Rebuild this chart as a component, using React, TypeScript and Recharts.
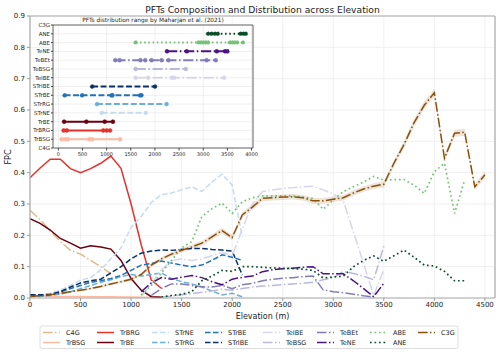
import React from 'react';
import { ComposedChart, LineChart, Line, Area, XAxis, YAxis, CartesianGrid, ReferenceLine, Label } from 'recharts';

const FONT = "'DejaVu Sans', sans-serif";

// ---------- Main chart data (FPC every 100 m, each series from its start elevation) ----------
const elevation = [0, 100, 200, 300, 400, 500, 600, 700, 800, 900, 1000, 1100, 1200, 1300, 1400, 1500, 1600, 1700, 1800, 1900, 2000, 2100, 2200, 2300, 2400, 2500, 2600, 2700, 2800, 2900, 3000, 3100, 3200, 3300, 3400, 3500, 3600, 3700, 3800, 3900, 4000, 4100, 4200, 4300, 4400, 4500];
const xTicks = [0, 500, 1000, 1500, 2000, 2500, 3000, 3500, 4000, 4500];
const yTicks = [0, 0.1, 0.2, 0.3, 0.4, 0.5, 0.6, 0.7, 0.8, 0.9];

const c4gStart = 0;
const c4gFpc = [0.28, 0.25, 0.215, 0.18, 0.152, 0.14, 0.12, 0.1, 0.078];
const trbsgStart = 0;
const trbsgFpc = [0.006, 0.006, 0.005, 0.005, 0.005, 0.005, 0.004, 0.004, 0.004, 0.003, 0.003, 0.002, 0.002, 0.002];
const trbrgStart = 0;
const trbrgFpc = [0.384, 0.415, 0.443, 0.443, 0.413, 0.4, 0.413, 0.43, 0.453, 0.414, 0.3, 0.17, 0.057, 0.031];
const trbeStart = 0;
const trbeFpc = [0.253, 0.238, 0.217, 0.19, 0.175, 0.159, 0.167, 0.163, 0.156, 0.12, 0.062, 0.025, 0.004, 0.002];
const strneStart = 0;
const strneFpc = [0.01, 0.01, 0.015, 0.025, 0.04, 0.057, 0.065, 0.09, 0.125, 0.16, 0.225, 0.26, 0.305, 0.33, 0.335, 0.345, 0.355, 0.34, 0.37, 0.395, 0.36, 0.196];
const strrgStart = 0;
const strrgFpc = [0.005, 0.005, 0.008, 0.012, 0.02, 0.03, 0.04, 0.05, 0.058, 0.068, 0.075, 0.07, 0.075, 0.08, 0.062, 0.052, 0.045, 0.035, 0.022, 0.01, 0.015, 0.004];
const strbeStart = 0;
const strbeFpc = [0.008, 0.008, 0.01, 0.02, 0.03, 0.04, 0.05, 0.055, 0.062, 0.072, 0.088, 0.105, 0.11, 0.118, 0.112, 0.105, 0.1, 0.105, 0.12, 0.138, 0.13, 0.12];
const stribeStart = 0;
const stribeFpc = [0.01, 0.01, 0.012, 0.02, 0.035, 0.048, 0.055, 0.06, 0.08, 0.1, 0.125, 0.143, 0.15, 0.153, 0.152, 0.155, 0.158, 0.158, 0.155, 0.153, 0.15, 0.073];
const teibeStart = 1100;
const teibeFpc = [0.005, 0.045, 0.09, 0.118, 0.125, 0.12, 0.125, 0.135, 0.145, 0.135, 0.22, 0.3, 0.34, 0.345, 0.35, 0.352, 0.355, 0.357, 0.345, 0.332, 0.31, 0.21, 0.11, 0.008, 0.09];
const tebsgStart = 1300;
const tebsgFpc = [0.003, 0.006, 0.01, 0.014, 0.018, 0.022, 0.028, 0.025, 0.03, 0.035, 0.038, 0.04, 0.043, 0.045, 0.047, 0.05, 0.058, 0.065, 0.085, 0.078, 0.07, 0.058, 0.165];
const tebetStart = 1200;
const tebetFpc = [0.008, 0.03, 0.045, 0.045, 0.04, 0.036, 0.035, 0.04, 0.03, 0.042, 0.047, 0.055, 0.06, 0.063, 0.065, 0.068, 0.07, 0.026, 0.02, 0.017, 0.012, 0.007, 0.003];
const teneStart = 1100;
const teneFpc = [0.02, 0.048, 0.065, 0.06, 0.066, 0.072, 0.065, 0.052, 0.042, 0.06, 0.066, 0.07, 0.084, 0.09, 0.093, 0.095, 0.098, 0.1, 0.077, 0.077, 0.077, 0.055, 0.03, 0.004, 0.047];
const abeStart = 1100;
const abeFpc = [0.01, 0.04, 0.08, 0.12, 0.16, 0.18, 0.26, 0.285, 0.303, 0.27, 0.307, 0.32, 0.326, 0.326, 0.326, 0.326, 0.322, 0.318, 0.283, 0.313, 0.34, 0.355, 0.37, 0.388, 0.376, 0.378, 0.378, 0.36, 0.334, 0.403, 0.43, 0.27, 0.377];
const aneStart = 1300;
const aneFpc = [0.003, 0.008, 0.012, 0.02, 0.055, 0.07, 0.088, 0.085, 0.1, 0.1, 0.098, 0.096, 0.095, 0.094, 0.092, 0.088, 0.064, 0.067, 0.07, 0.1, 0.12, 0.134, 0.117, 0.135, 0.153, 0.13, 0.105, 0.102, 0.085, 0.055, 0.055];
const c3gStart = 0;
const c3gFpc = [0.005, 0.007, 0.01, 0.015, 0.02, 0.025, 0.03, 0.037, 0.045, 0.052, 0.06, 0.075, 0.105, 0.125, 0.14, 0.152, 0.163, 0.175, 0.195, 0.215, 0.193, 0.265, 0.29, 0.318, 0.32, 0.322, 0.323, 0.32, 0.31, 0.31, 0.315, 0.32, 0.335, 0.348, 0.357, 0.363, 0.43, 0.49, 0.56, 0.615, 0.655, 0.446, 0.526, 0.529, 0.355, 0.393];
// half-width of the C3G confidence band
const c3gCi = [0.002, 0.002, 0.002, 0.003, 0.003, 0.003, 0.003, 0.004, 0.004, 0.004, 0.005, 0.005, 0.006, 0.006, 0.007, 0.007, 0.007, 0.008, 0.008, 0.009, 0.008, 0.009, 0.009, 0.009, 0.009, 0.009, 0.009, 0.009, 0.009, 0.009, 0.009, 0.009, 0.009, 0.009, 0.009, 0.01, 0.01, 0.011, 0.012, 0.012, 0.012, 0.012, 0.011, 0.011, 0.01, 0.011];

// ---------- Inset data: distribution ranges (m) by Maharjan et al. (2021) ----------
const insetCategories = ['C4G', 'TrBSG', 'TrBRG', 'TrBE', 'STrNE', 'STrRG', 'STrBE', 'STrIBE', 'TeIBE', 'TeBSG', 'TeBEt', 'TeNE', 'ABE', 'ANE', 'C3G'];
const insetTicks = [0, 500, 1000, 1500, 2000, 2500, 3000, 3500, 4000];
const c4gRange: number[] = [];
const trbsgRange = [70, 140, 200, 640, 700, 1280];
const trbrgRange = [110, 175, 930, 1000, 1070];
const trbeRange = [120, 580, 960, 1130];
const strneRange = [900, 1810];
const strrgRange = [800, 2240];
const strbeRange = [130, 490, 1100, 1120, 1690, 1720];
const stribeRange = [700, 2000];
const teibeRange = [1600, 1860, 2350, 2400, 3430];
const tebsgRange = [1600, 2640];
const tebetRange = [1180, 1270, 1700, 1800, 1930, 2140, 2280, 3070, 3260];
const teneRange = [2250, 2660, 3280, 3450, 3500];
const abeRange = [1600, 2900, 2950, 3000, 3050, 3100, 3550, 3600, 3650, 3700, 3820];
const aneRange = [3100, 3170, 3240, 3300, 3770, 3830, 3880];
const c3gRange: number[] = [];

type Style = 'solid' | 'dashed' | 'dashdot' | 'dotted';
const SERIES: { name: string; start: number; values: number[]; range: number[]; color: string; style: Style }[] = [
  { name: 'C4G', start: c4gStart, values: c4gFpc, range: c4gRange, color: '#dfb98a', style: 'dashdot' },
  { name: 'TrBSG', start: trbsgStart, values: trbsgFpc, range: trbsgRange, color: '#fcbba1', style: 'solid' },
  { name: 'TrBRG', start: trbrgStart, values: trbrgFpc, range: trbrgRange, color: '#e8302a', style: 'solid' },
  { name: 'TrBE', start: trbeStart, values: trbeFpc, range: trbeRange, color: '#6b0010', style: 'solid' },
  { name: 'STrNE', start: strneStart, values: strneFpc, range: strneRange, color: '#c6dbef', style: 'dashed' },
  { name: 'STrRG', start: strrgStart, values: strrgFpc, range: strrgRange, color: '#6baed6', style: 'dashed' },
  { name: 'STrBE', start: strbeStart, values: strbeFpc, range: strbeRange, color: '#2171b5', style: 'dashed' },
  { name: 'STrIBE', start: stribeStart, values: stribeFpc, range: stribeRange, color: '#08306b', style: 'dashed' },
  { name: 'TeIBE', start: teibeStart, values: teibeFpc, range: teibeRange, color: '#d6d6ea', style: 'dashdot' },
  { name: 'TeBSG', start: tebsgStart, values: tebsgFpc, range: tebsgRange, color: '#b8b9da', style: 'dashdot' },
  { name: 'TeBEt', start: tebetStart, values: tebetFpc, range: tebetRange, color: '#807dba', style: 'dashdot' },
  { name: 'TeNE', start: teneStart, values: teneFpc, range: teneRange, color: '#4a1486', style: 'dashdot' },
  { name: 'ABE', start: abeStart, values: abeFpc, range: abeRange, color: '#74c476', style: 'dotted' },
  { name: 'ANE', start: aneStart, values: aneFpc, range: aneRange, color: '#0b4d26', style: 'dotted' },
  { name: 'C3G', start: c3gStart, values: c3gFpc, range: c3gRange, color: '#8c510a', style: 'dashdot' },
];

const dashFor = (s: Style, lw: number): string | undefined => {
  if (s === 'dashed') return `${3.7 * lw} ${1.6 * lw}`;
  if (s === 'dashdot') return `${6.4 * lw} ${1.6 * lw} ${1 * lw} ${1.6 * lw}`;
  if (s === 'dotted') return `${1 * lw} ${1.65 * lw}`;
  return undefined;
};
const widthFor = (s: Style) => (s === 'dotted' ? 1.7 : 1.5);

const rows = elevation.map((e, i) => {
  const row: Record<string, any> = { elev: e };
  SERIES.forEach((s) => {
    const k = Math.round((e - s.start) / 100);
    row[s.name] = k >= 0 && k < s.values.length ? s.values[k] : null;
  });
  row.c3gBand = [c3gFpc[i] - c3gCi[i], c3gFpc[i] + c3gCi[i]];
  return row;
});

const legendCols = [43, 97, 152, 205, 263, 317, 370, 418];
const legendRows = [332.5, 342.5];

export default function App() {
  const tickStyle = { fontSize: 7, fill: '#222', fontFamily: FONT };
  return (
    <div style={{ position: 'absolute', left: 0, top: 0, width: 500, height: 354, background: '#fff', fontFamily: FONT }}>
      <ComposedChart width={500} height={354} data={rows} margin={{ top: 16, right: 5, bottom: 32, left: 0 }}>
        <CartesianGrid stroke="#ececec" strokeWidth={0.8} />
        <XAxis
          dataKey="elev"
          type="number"
          domain={[0, 4600]}
          ticks={xTicks}
          allowDataOverflow
          height={24}
          tick={tickStyle}
          tickSize={3}
          tickMargin={1}
          stroke="#999"
          axisLine={{ stroke: '#aaa', strokeWidth: 1.2 }}
        >
          <Label value="Elevation (m)" position="insideBottom" offset={3} style={{ fontSize: 8, fill: '#222', fontFamily: FONT }} />
        </XAxis>
        <YAxis
          type="number"
          domain={[0, 0.9]}
          ticks={yTicks}
          allowDataOverflow
          width={30}
          tick={tickStyle}
          tickSize={3}
          tickMargin={2}
          tickFormatter={(v: number) => v.toFixed(1)}
          stroke="#999"
          axisLine={{ stroke: '#aaa', strokeWidth: 1.2 }}
        >
          <Label
            content={(props: any) => {
              const vb = props.viewBox || { x: 0, y: 16, width: 30, height: 282 };
              const cy = vb.y + vb.height / 2;
              return (
                <text x={8} y={cy} transform={`rotate(-90, 8, ${cy})`} textAnchor="middle" dominantBaseline="central" style={{ fontSize: 8, fill: '#222', fontFamily: FONT }}>
                  FPC
                </text>
              );
            }}
          />
        </YAxis>
        <ReferenceLine y={0.9} stroke="#aaa" strokeWidth={1.2} />
        <ReferenceLine x={4600} stroke="#aaa" strokeWidth={1.2} />
        <Area dataKey="c3gBand" stroke="none" fill="#8c510a" fillOpacity={0.16} isAnimationActive={false} />
        {SERIES.map((s) => (
          <Line
            key={s.name}
            dataKey={s.name}
            stroke={s.color}
            strokeWidth={widthFor(s.style)}
            strokeDasharray={dashFor(s.style, widthFor(s.style))}
            dot={false}
            activeDot={false}
            connectNulls={false}
            isAnimationActive={false}
          />
        ))}
      </ComposedChart>

      {/* Inset */}
      <div style={{ position: 'absolute', left: 30, top: 12 }}>
        <LineChart width={228} height={152} margin={{ top: 13, right: 5, bottom: 0, left: 0 }}>
          <CartesianGrid stroke="#e8e8e8" strokeWidth={0.7} fill="#fff" />
          <XAxis
            type="number"
            dataKey="x"
            domain={[-110, 4030]}
            ticks={insetTicks}
            allowDataOverflow
            height={16}
            tick={{ fontSize: 5, fill: '#222', fontFamily: FONT }}
            tickSize={2.5}
            tickMargin={1.5}
            stroke="#444"
            axisLine={{ stroke: '#444', strokeWidth: 0.8 }}
          />
          <YAxis
            type="number"
            dataKey="y"
            domain={[0, 14]}
            ticks={insetCategories.map((_, i) => i)}
            interval={0}
            allowDataOverflow
            width={23}
            tick={{ fontSize: 5.5, fill: '#222', fontFamily: FONT }}
            tickSize={2}
            tickMargin={1}
            tickFormatter={(i: number) => insetCategories[i]}
            stroke="#444"
            axisLine={{ stroke: '#444', strokeWidth: 0.8 }}
          />
          <ReferenceLine y={14} stroke="#444" strokeWidth={0.8} />
          <ReferenceLine x={4030} stroke="#444" strokeWidth={0.8} />
          {SERIES.filter((s) => s.range.length > 0).map((s) => {
            const yi = insetCategories.indexOf(s.name);
            const pts = s.range.map((x) => ({ x, y: yi }));
            return (
              <Line
                key={s.name}
                data={pts}
                dataKey="y"
                stroke={s.color}
                strokeWidth={2}
                strokeDasharray={dashFor(s.style, 1.6)}
                dot={{ r: 2, fill: s.color, stroke: s.color, strokeWidth: 0.5 }}
                activeDot={false}
                isAnimationActive={false}
              />
            );
          })}
        </LineChart>
      </div>

      {/* Titles and legend */}
      <svg width={500} height={354} style={{ position: 'absolute', left: 0, top: 0, pointerEvents: 'none' }}>
        <text x={262.5} y={9} textAnchor="middle" dominantBaseline="central" style={{ fontSize: 9.2, fill: '#222', fontFamily: FONT }}>
          PFTs Composition and Distribution across Elevation
        </text>
        <text x={153} y={20} textAnchor="middle" dominantBaseline="central" style={{ fontSize: 5.8, fill: '#222', fontFamily: FONT }}>
          PFTs distribution range by Maharjan et al. (2021)
        </text>
        <rect x={40} y={326} width={418} height={22.5} rx={2} fill="#fff" fillOpacity={0.85} stroke="#d6d6d6" strokeWidth={0.8} />
        {SERIES.map((s, i) => {
          const cx = legendCols[Math.floor(i / 2)];
          const cy = legendRows[i % 2];
          const lw = widthFor(s.style);
          return (
            <g key={s.name}>
              <line x1={cx} x2={cx + 17} y1={cy} y2={cy} stroke={s.color} strokeWidth={lw} strokeDasharray={dashFor(s.style, lw)} />
              <text x={cx + 23} y={cy} dominantBaseline="central" style={{ fontSize: 6.5, fill: '#222', fontFamily: FONT }}>
                {s.name}
              </text>
            </g>
          );
        })}
      </svg>
    </div>
  );
}
